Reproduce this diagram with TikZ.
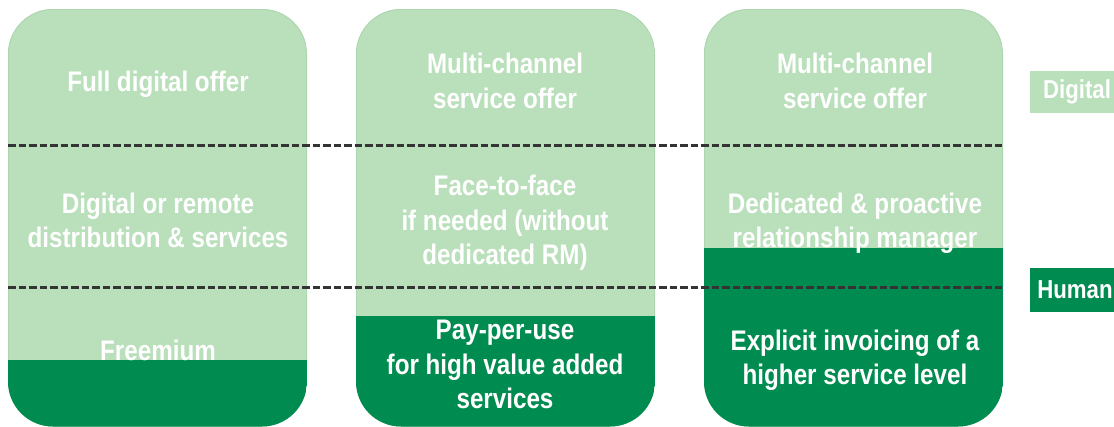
\documentclass[tikz,border=0pt]{standalone}
\usepackage{fontspec}
\setmainfont{Liberation Sans}[FakeStretch=0.855]
\definecolor{lightgreen}{RGB}{185,223,187}
\definecolor{edgegreen}{RGB}{172,214,176}
\definecolor{darkgreen}{RGB}{0,140,80}
\definecolor{dashgray}{RGB}{52,52,52}
\begin{document}
\begin{tikzpicture}[x=1pt,y=-1pt,
  celltext/.style={text=white,font=\bfseries\fontsize{28.3}{34.5}\selectfont,align=center,inner sep=0pt},
  tagtext/.style={text=white,font=\bfseries\fontsize{26}{30}\selectfont,inner sep=0pt},
  divider/.style={dashgray,line width=3pt,dash pattern=on 7.5pt off 3pt}]
\useasboundingbox (0,0) rectangle (1114,426);

% three offer columns: light (digital) top, dark (human) bottom
\foreach \x/\split in {8/360,356/316,704/248}{
  \begin{scope}
    \clip[rounded corners=45pt] (\x,9) rectangle ++(299,417.5);
    \fill[lightgreen] (\x,9) rectangle ++(299,417.5);
    \draw[edgegreen,line width=1.6pt,rounded corners=45pt] (\x,9) rectangle ++(299,417.5);
    \fill[darkgreen] (\x,\split) rectangle (\x+299,430);
  \end{scope}
}

% level dividers
\coordinate (d1l) at (8,145);   \coordinate (d1r) at (1002,145);
\coordinate (d2l) at (8,287);   \coordinate (d2r) at (1002,287);
\draw[divider] (d1l) -- (d1r);
\draw[divider] (d2l) -- (d2r);

% column 1
\node[celltext] (c1a) at (158,84.7) {Full digital offer};
\node[celltext] (c1b) at (158,220.5) {Digital or remote\\distribution \& services};
\node[celltext] (c1c) at (158,350.8) {Freemium};

% column 2
\node[celltext] (c2a) at (505,80.8) {Multi-channel\\service offer};
\node[celltext] (c2b) at (505,222.8) {Face-to-face\\if needed (without\\dedicated RM)};
\node[celltext] (c2c) at (505,364.8) {Pay-per-use\\for high value added\\services};

% column 3
\node[celltext] (c3a) at (855,80.8) {Multi-channel\\service offer};
\node[celltext] (c3b) at (855,223.3) {Dedicated \& proactive\\relationship manager};
\node[celltext] (c3c) at (855,360.3) {Explicit invoicing of a\\higher service level};

% level tags
\fill[lightgreen] (1030,71) rectangle (1130,113);
\fill[darkgreen] (1030,268) rectangle (1130,312);
\node[tagtext] (tagd) at (1077,92) {Digital};
\node[tagtext] (tagh) at (1075,290) {Human};
\end{tikzpicture}
\end{document}
